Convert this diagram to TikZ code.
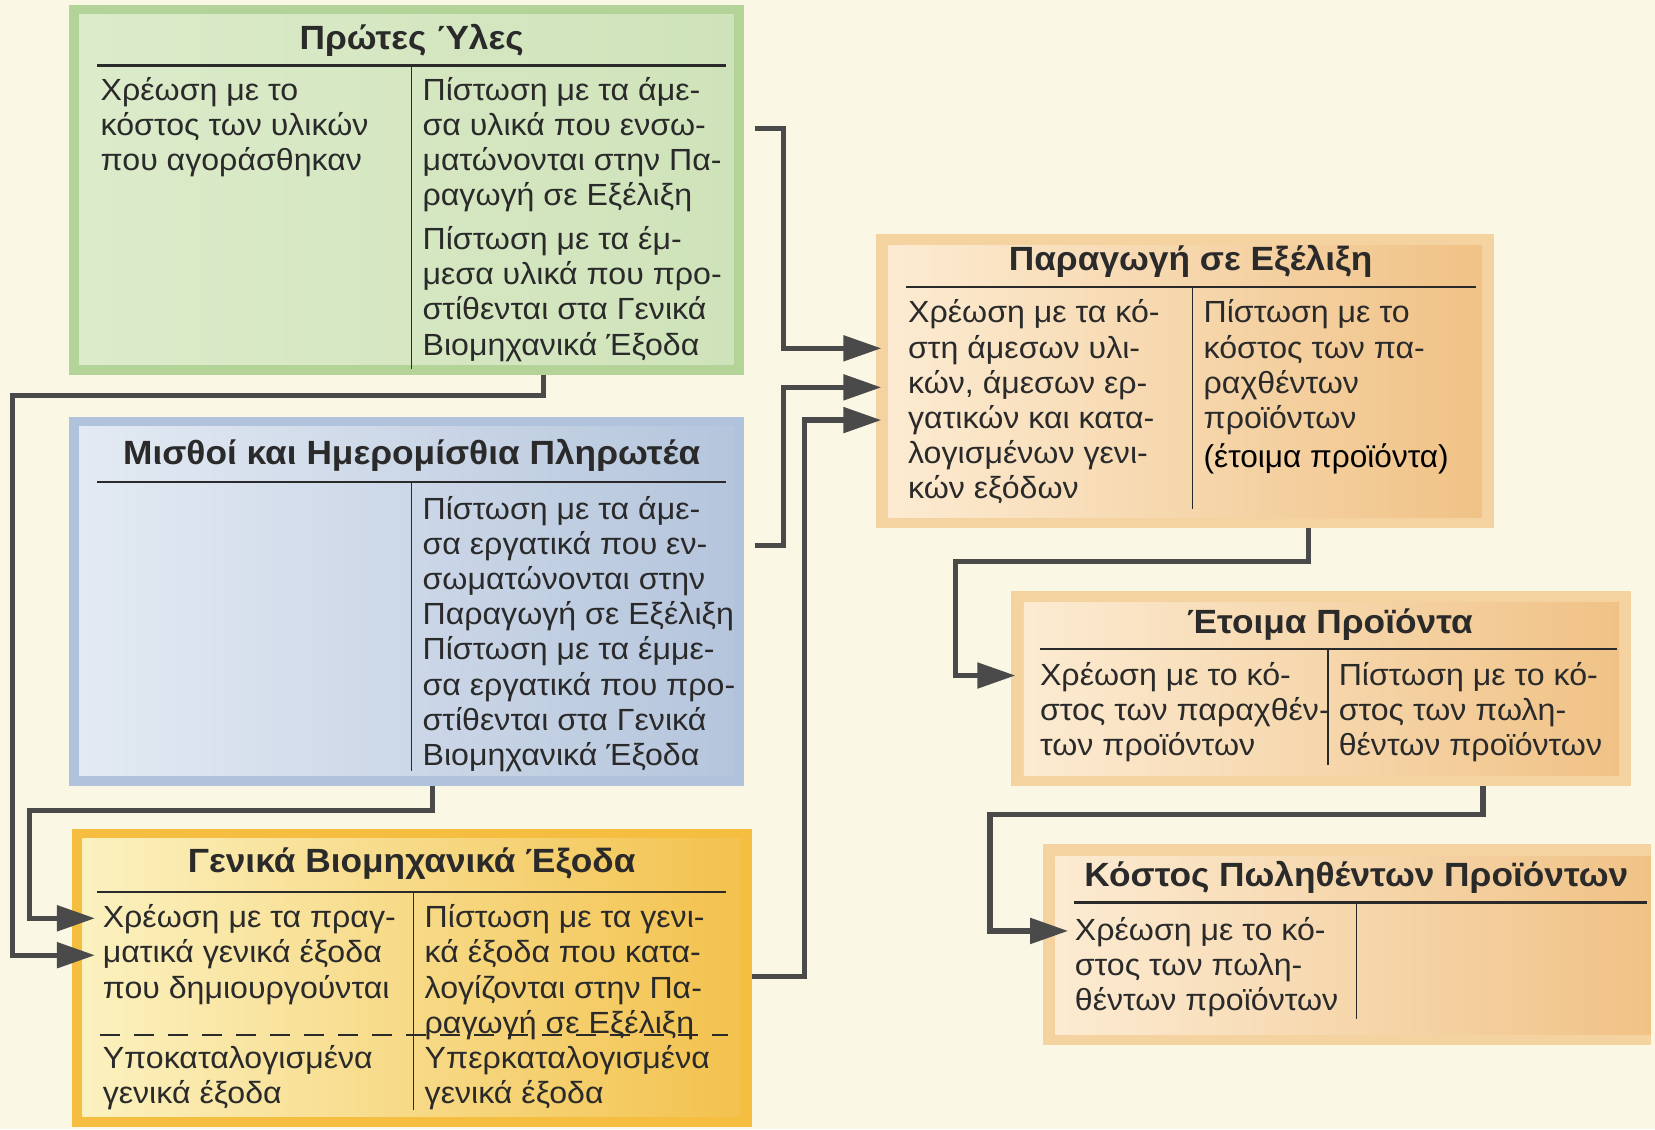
\documentclass[tikz,border=0pt]{standalone}
\usepackage{fontspec}
\setmainfont{Liberation Sans}[FakeStretch=1.05]
\newfontfamily\plainarial{Liberation Sans}
\usetikzlibrary{arrows.meta}
\definecolor{bg}{HTML}{FAF8E4}
\definecolor{txt}{HTML}{2A2A2A}
\definecolor{cn}{HTML}{4A4A4A}
\definecolor{gB}{HTML}{B4D399}
\definecolor{gL}{HTML}{DCEBCA}
\definecolor{gR}{HTML}{CFE3BA}
\definecolor{bB}{HTML}{B0C2DC}
\definecolor{bL}{HTML}{E3EAF3}
\definecolor{bR}{HTML}{B5C5DC}
\definecolor{yB}{HTML}{F5BE40}
\definecolor{yL}{HTML}{FBF1BF}
\definecolor{yR}{HTML}{F3C24E}
\definecolor{oB}{HTML}{F4D3A1}
\definecolor{oL}{HTML}{FCEBD2}
\definecolor{oR}{HTML}{F0C286}
\tikzset{
  body/.style={anchor=base west, inner sep=0pt, text=txt,
    font=\fontsize{15.3}{17.57}\selectfont},
  ttl/.style={anchor=base, inner sep=0pt, text=txt,
    font=\bfseries\fontsize{16.8}{19}\selectfont},
  hrule/.style={line width=1.1pt, draw=txt},
  vrule/.style={line width=0.7pt, draw=txt},
  conn/.style={line width=2.6pt, draw=cn, -{Triangle[length=19pt,width=12.5pt]}}
}
\begin{document}
\begin{tikzpicture}[x=0.52775pt,y=-0.52775pt]
\fill[bg] (0,0) rectangle (1568,1070);
\useasboundingbox (0,0) rectangle (1568,1070);

% ---------- Boxes ----------
% green
\fill[gB] (65,5) rectangle (705,355);
\shade[left color=gL,right color=gR] (75,14) rectangle (695,345);
% blue
\fill[bB] (65,395) rectangle (705,745);
\shade[left color=bL,right color=bR] (75,404) rectangle (695,735);
% gold
\fill[yB] (68,785) rectangle (712,1068);
\shade[left color=yL,right color=yR] (78,794) rectangle (702,1058);
% orange production
\fill[oB] (830,222) rectangle (1415,500);
\shade[left color=oL,right color=oR] (842,233) rectangle (1404,490);
% finished goods
\fill[oB] (958,560) rectangle (1545,745);
\shade[left color=oL,right color=oR] (970,571) rectangle (1534,735);
% cost of goods sold
\fill[oB] (988,800) rectangle (1564,990);
\shade[left color=oL,right color=oR] (1000,811) rectangle (1564,980);

% ---------- Πρώτες Ύλες ----------
\node[ttl] (t1) at (390,47) {Πρώτες Ύλες};
\draw[hrule] (92,62) -- (688,62);
\draw[vrule] (390,62) -- (390,350);
\node[body] (g1) at (95,95) {\parbox[t]{290pt}{\raggedright Χρέωση με το\\κόστος των υλικών\\που αγοράσθηκαν}};
\node[body] (g2) at (400,95) {\parbox[t]{290pt}{\raggedright Πίστωση με τα άμε-\\σα υλικά που ενσω-\\ματώνονται στην Πα-\\ραγωγή σε Εξέλιξη\\[4.4pt]Πίστωση με τα έμ-\\μεσα υλικά που προ-\\στίθενται στα Γενικά\\Βιομηχανικά Έξοδα}};

% ---------- Μισθοί ----------
\node[ttl] (t2) at (390,440) {Μισθοί και Ημερομίσθια Πληρωτέα};
\draw[hrule] (92,457) -- (688,457);
\draw[vrule] (390,457) -- (390,730);
\node[body] (b2) at (400,492) {\parbox[t]{290pt}{\raggedright Πίστωση με τα άμε-\\σα εργατικά που εν-\\σωματώνονται στην\\Παραγωγή σε Εξέλιξη\\Πίστωση με τα έμμε-\\σα εργατικά που προ-\\στίθενται στα Γενικά\\Βιομηχανικά Έξοδα}};

% ---------- Γενικά Βιομηχανικά Έξοδα ----------
\node[ttl] (t3) at (390,827) {Γενικά Βιομηχανικά Έξοδα};
\draw[hrule] (92,845) -- (688,845);
\draw[vrule] (392,845) -- (392,1052);
\draw[line width=1pt, draw=txt, dash pattern=on 10pt off 7pt] (95,981) -- (690,981);
\node[body] (y1) at (97,879) {\parbox[t]{290pt}{\raggedright Χρέωση με τα πραγ-\\ματικά γενικά έξοδα\\που δημιουργούνται\\~\\Υποκαταλογισμένα\\γενικά έξοδα}};
\node[body] (y2) at (402,879) {\parbox[t]{290pt}{\raggedright Πίστωση με τα γενι-\\κά έξοδα που κατα-\\λογίζονται στην Πα-\\ραγωγή σε Εξέλιξη\\Υπερκαταλογισμένα\\γενικά έξοδα}};

% ---------- Παραγωγή σε Εξέλιξη ----------
\node[ttl] (t4) at (1128,256) {Παραγωγή σε Εξέλιξη};
\draw[hrule] (858,272) -- (1398,272);
\draw[vrule] (1130,272) -- (1130,482);
\node[body] (p1) at (860,306) {\parbox[t]{290pt}{\raggedright Χρέωση με τα κό-\\στη άμεσων υλι-\\κών, άμεσων ερ-\\γατικών και κατα-\\λογισμένων γενι-\\κών εξόδων}};
\node[body] (p2) at (1140,306) {\parbox[t]{290pt}{\raggedright Πίστωση με το\\κόστος των πα-\\ραχθέντων\\προϊόντων}};
\node[anchor=base west, inner sep=0pt, text=black, font=\plainarial\fontsize{15.8}{18}\selectfont] (p3) at (1140,443) {(έτοιμα προϊόντα)};

% ---------- Έτοιμα Προϊόντα ----------
\node[ttl] (t5) at (1260,600) {Έτοιμα Προϊόντα};
\draw[hrule] (985,615) -- (1532,615);
\draw[vrule] (1258,615) -- (1258,725);
\node[body] (f1) at (985,649) {\parbox[t]{290pt}{\raggedright Χρέωση με το κό-\\στος των παραχθέν-\\των προϊόντων}};
\node[body] (f2) at (1268,649) {\parbox[t]{290pt}{\raggedright Πίστωση με το κό-\\στος των πωλη-\\θέντων προϊόντων}};

% ---------- Κόστος Πωληθέντων Προϊόντων ----------
\node[ttl] (t6) at (1285,840) {Κόστος Πωληθέντων Προϊόντων};
\draw[hrule] (1018,855) -- (1560,855);
\draw[vrule] (1285,855) -- (1285,965);
\node[body] (c1) at (1018,891) {\parbox[t]{290pt}{\raggedright Χρέωση με το κό-\\στος των πωλη-\\θέντων προϊόντων}};

% ---------- Connector end points ----------
\coordinate (s1) at (715,122);  \coordinate (e1) at (835,330);
\coordinate (s2) at (515,355);  \coordinate (e2) at (90,905);
\coordinate (s3) at (715,517);  \coordinate (e3) at (835,367);
\coordinate (s4) at (410,745);  \coordinate (e4) at (90,870);
\coordinate (s5) at (712,925);  \coordinate (e5) at (835,398);
\coordinate (s6) at (1240,500); \coordinate (e6) at (962,640);
\coordinate (s7) at (1405,745); \coordinate (e7) at (1012,882);

\draw[conn] (s1) -| (742,330) -- (e1);
\draw[conn] (s2) |- (12,375) |- (e2);
\draw[conn] (s3) -| (742,367) -- (e3);
\draw[conn] (s4) |- (28,768) |- (e4);
\draw[conn] (s5) -| (762,398) -- (e5);
\draw[conn] (s6) |- (905,532) |- (e6);
\draw[conn] (s7) |- (938,772) |- (e7);
\end{tikzpicture}
\end{document}
